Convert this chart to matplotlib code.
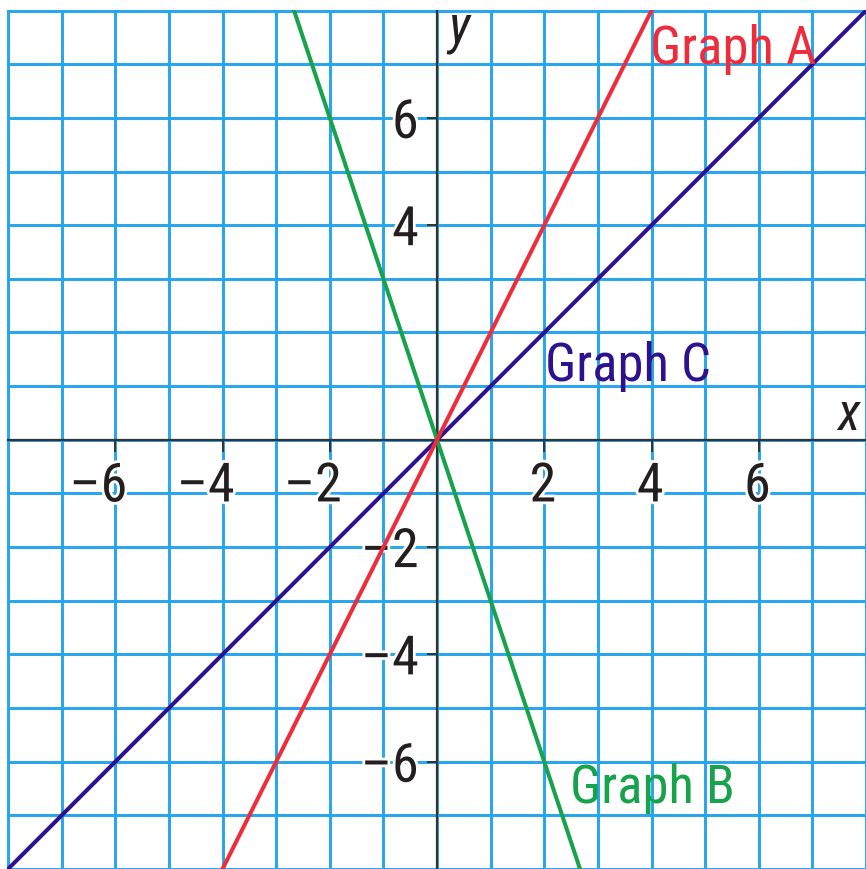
import matplotlib
matplotlib.use('Agg')
import matplotlib.pyplot as plt
import matplotlib.transforms as mtransforms
import matplotlib.patheffects as pe
from matplotlib import font_manager
import numpy as np

# three lines through the origin, two points each
graphA_x = [-4.5, 4.5]
graphA_y = [-9, 9]
graphB_x = [-3, 3]
graphB_y = [9, -9]
graphC_x = [-9, 9]
graphC_y = [-9, 9]

xticks = [-6, -4, -2, 2, 4, 6]
xtick_labels = ['\u20136', '\u20134', '\u20132', '2', '4', '6']
yticks = [-6, -4, -2, 4, 6]
ytick_labels = ['\u20136', '\u20134', '\u20132', '4', '6']

red = '#ee2d3c'
green = '#16a34c'
purple = '#2e118e'
gridblue = '#23a6ee'
axcol = '#333333'

names = set(f.name for f in font_manager.fontManager.ttflist)
font = 'Roboto Condensed' if 'Roboto Condensed' in names else 'Liberation Sans'
plt.rcParams['font.family'] = [font, 'DejaVu Sans']

fig = plt.figure(figsize=(8.66, 8.69), dpi=100)
ax = fig.add_axes([7/866, 0, 859/866, 859.5/869])
ax.set_xlim(-8.02, 8.0)
ax.set_ylim(-8.0, 8.02)

# grid, one line per unit
for g in np.arange(-8, 9):
    ax.axvline(g, color=gridblue, lw=2.1, zorder=1)
    ax.axhline(g, color=gridblue, lw=2.1, zorder=1)

for s in ['top', 'right']:
    ax.spines[s].set_visible(False)
ax.spines['left'].set_position(('data', 0))
ax.spines['bottom'].set_position(('data', 0))
ax.spines['left'].set_bounds(-8, 8)
ax.spines['bottom'].set_bounds(-8, 8)
for s in ['left', 'bottom']:
    ax.spines[s].set_color(axcol)
    ax.spines[s].set_linewidth(1.6)

ax.set_xticks(xticks)
ax.set_xticklabels(xtick_labels)
ax.set_yticks(yticks)
ax.set_yticklabels(ytick_labels)
ax.tick_params(axis='x', direction='out', length=8.6, width=1.4, color=axcol,
               pad=7, labelsize=39, labelcolor='#231f20')
ax.tick_params(axis='y', direction='out', length=7.2, width=1.4, color=axcol,
               pad=6, labelsize=39, labelcolor='#231f20')

# white knockout round the digits, grid still runs past them
knock = [pe.withStroke(linewidth=4, foreground='white')]
shift = mtransforms.ScaledTranslation(0.12, 0, fig.dpi_scale_trans)
for lbl in ax.get_xticklabels():
    lbl.set_horizontalalignment('right')
    lbl.set_transform(lbl.get_transform() + shift)
    lbl.set_path_effects(knock)
for lbl in ax.get_yticklabels():
    lbl.set_path_effects(knock)

ax.plot(graphC_x, graphC_y, color=purple, lw=2.9, zorder=3)
ax.plot(graphB_x, graphB_y, color=green, lw=2.9, zorder=3)
ax.plot(graphA_x, graphA_y, color=red, lw=2.9, zorder=3)

ax.text(3.97, 7.0, 'Graph A', color=red, fontsize=38, ha='left', va='baseline', zorder=4)
ax.text(2.01, 1.1, 'Graph C', color=purple, fontsize=38, ha='left', va='baseline', zorder=4)
ax.text(2.48, -6.77, 'Graph B', color=green, fontsize=38, ha='left', va='baseline', zorder=4)
ax.text(0.2, 7.4, 'y', fontsize=38, style='italic', color='#231f20', ha='left', va='baseline', zorder=4)
ax.text(7.46, 0.18, 'x', fontsize=38, style='italic', color='#231f20', ha='left', va='baseline', zorder=4)

plt.savefig('out.png', dpi=100, facecolor='white')
